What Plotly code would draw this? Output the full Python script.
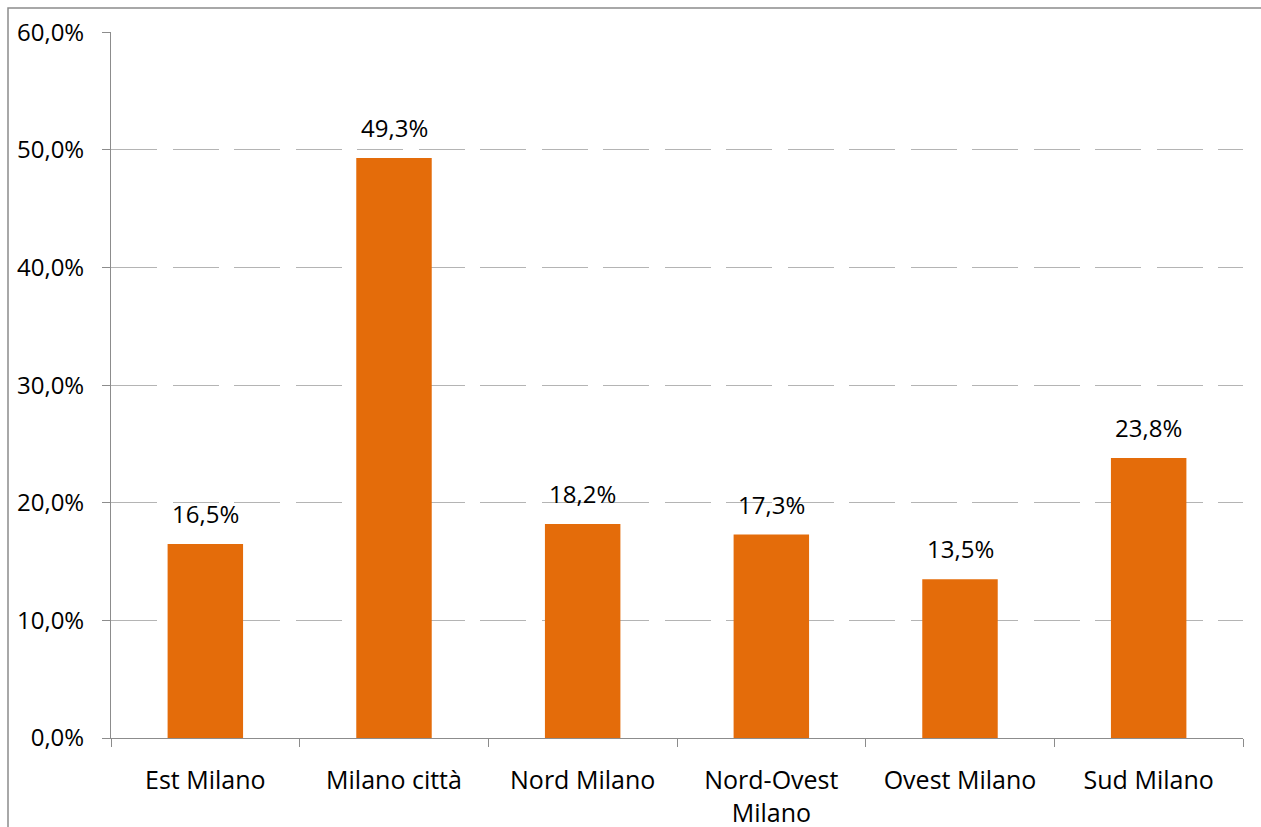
import plotly.graph_objects as go

# Share of respondents by area (percent)
areas = ["Est Milano", "Milano città", "Nord Milano", "Nord-Ovest<br>Milano", "Ovest Milano", "Sud Milano"]
shares = [16.5, 49.3, 18.2, 17.3, 13.5, 23.8]
y_ticks = [0, 10, 20, 30, 40, 50, 60]
y_tick_labels = ["0,0%", "10,0%", "20,0%", "30,0%", "40,0%", "50,0%", "60,0%"]

FONT = "Open Sans"
LABEL_SIZE = 25   # category names
NUMBER_SIZE = 24  # percentages
BAR_COLOR = "#E46C0A"
AXIS_COLOR = "#8C8C8C"
GRID_COLOR = "#B4B4B4"

W, H = 1261, 827
ML, MR, MT, MB = 111, 18, 32, 89
plot_w = W - ML - MR
plot_h = H - MT - MB

fig = go.Figure(
    go.Bar(
        x=areas,
        y=shares,
        marker=dict(color=BAR_COLOR, line=dict(width=0)),
        hoverinfo="skip",
    )
)

# value labels above each bar
for a, v in zip(areas, shares):
    fig.add_annotation(
        x=a, y=v, xref="x", yref="y",
        text=f"{v:.1f}%".replace(".", ","),
        showarrow=False, yanchor="bottom", yshift=12,
        font=dict(family=FONT, size=NUMBER_SIZE, color="#000000"),
    )

# outer chart frame (left and top edges fall inside the canvas)
fig.add_shape(
    type="rect", xref="paper", yref="paper",
    x0=(8 - ML) / plot_w, x1=1 + (MR + 20) / plot_w,
    y0=-(MB + 20) / plot_h, y1=1 + (MT - 8) / plot_h,
    line=dict(color=AXIS_COLOR, width=1.5), fillcolor="rgba(0,0,0,0)",
    layer="below",
)

fig.update_layout(
    width=W, height=H,
    margin=dict(l=ML, r=MR, t=MT, b=MB, pad=0, autoexpand=False),
    paper_bgcolor="white", plot_bgcolor="white",
    bargap=0.6,
    showlegend=False,
    font=dict(family=FONT, size=LABEL_SIZE, color="#000000"),
)

fig.update_xaxes(
    type="category", automargin=False,
    showline=True, linecolor=AXIS_COLOR, linewidth=1,
    ticks="outside", tickson="boundaries", ticklen=8, tickcolor=AXIS_COLOR, tickwidth=1,
    showgrid=False,
    tickfont=dict(family=FONT, size=LABEL_SIZE, color="#000000"),
    ticklabelstandoff=20,
)

fig.update_yaxes(
    automargin=False,
    # a hair above 60 so the top gridline is still drawn
    range=[0, 60.02],
    tickvals=y_ticks, ticktext=y_tick_labels,
    showline=True, linecolor=AXIS_COLOR, linewidth=1,
    ticks="outside", ticklen=8, tickcolor=AXIS_COLOR, tickwidth=1,
    showgrid=True, gridcolor=GRID_COLOR, gridwidth=1, griddash="46px,15.5px",
    zeroline=False,
    tickfont=dict(family=FONT, size=NUMBER_SIZE, color="#000000"),
    ticklabelstandoff=13,
)

fig.write_html("out.html")
